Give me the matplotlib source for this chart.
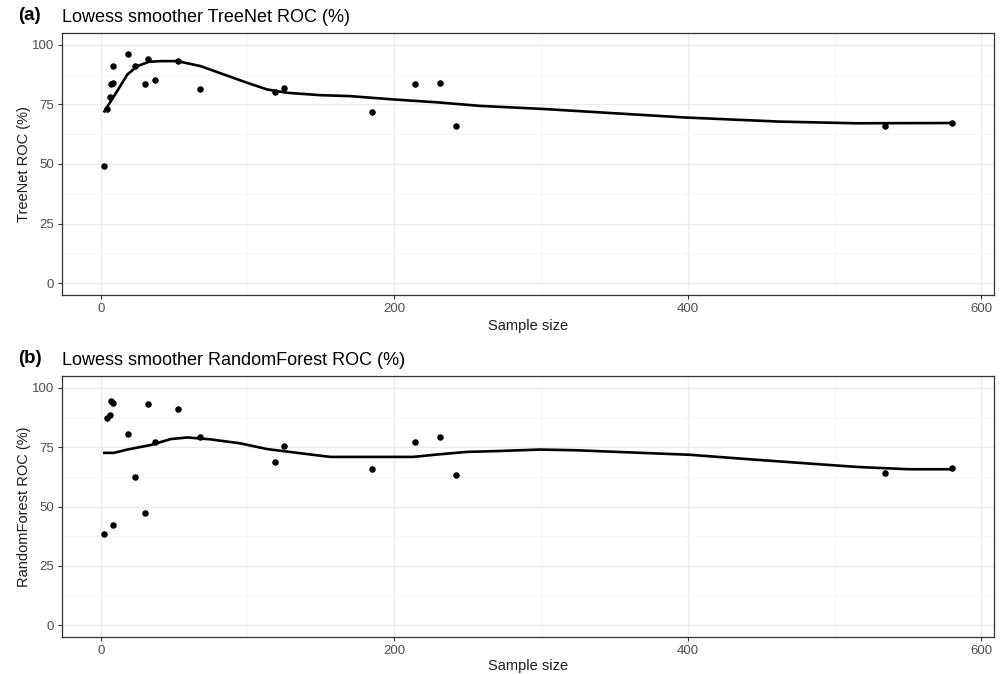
import matplotlib
matplotlib.use("Agg")
import matplotlib.pyplot as plt
from matplotlib.ticker import MultipleLocator

plt.rcParams['font.family'] = ['Liberation Sans', 'DejaVu Sans']

# ---- data ----
sample_size = [2.5, 4.5, 6.0, 6.8, 8.6, 8.6, 18.8, 23.7, 30.2, 32.2, 37.2,
               52.6, 68.0, 118.6, 125.0, 185.0, 214.3, 231.3, 242.0, 534.5, 579.8]
treenet_roc = [49.0, 73.3, 78.0, 83.4, 84.2, 91.2, 96.0, 91.2, 83.4, 94.2, 85.2,
               93.3, 81.3, 80.4, 82.1, 72.0, 83.4, 84.2, 66.0, 66.0, 67.2]
rf_roc = [38.6, 87.4, 88.5, 94.3, 93.6, 42.4, 80.4, 62.5, 47.2, 93.4, 77.3,
          91.2, 79.4, 68.7, 75.6, 65.6, 77.3, 79.4, 63.3, 64.2, 66.3]

# lowess curves
tn_curve_x = [2.5, 9, 18.2, 25, 32.9, 40.8, 52.2, 68, 83.9, 99.8, 113.4, 127,
              149.7, 170, 199.5, 229, 258.5, 301.6, 344.7, 399, 462.6, 514.7, 579.8]
tn_curve_y = [72.1, 78.4, 87.6, 91.1, 92.9, 93.2, 93.2, 91.1, 87.6, 84.1, 81.3, 79.9,
              78.9, 78.5, 77.1, 75.9, 74.4, 73.1, 71.5, 69.5, 67.8, 67.1, 67.2]
rf_curve_x = [2.5, 9, 18.2, 34, 47.6, 59, 74.8, 95.2, 113.4, 131.5, 149.7, 156.5,
              213, 229, 249.4, 272, 299.3, 324, 360.5, 401.4, 440, 485, 514.7,
              528.4, 551, 579.8]
rf_curve_y = [72.6, 72.6, 74.0, 75.9, 78.4, 79.1, 78.3, 76.6, 74.2, 72.8, 71.4, 70.9,
              70.9, 71.9, 73.0, 73.4, 74.0, 73.7, 72.8, 71.8, 70.0, 68.0, 66.7,
              66.3, 65.7, 65.7]

panels = [
    ("(a)", "Lowess smoother TreeNet ROC (%)", "TreeNet ROC (%)", treenet_roc, tn_curve_x, tn_curve_y),
    ("(b)", "Lowess smoother RandomForest ROC (%)", "RandomForest ROC (%)", rf_roc, rf_curve_x, rf_curve_y),
]

fig = plt.figure(figsize=(10.01, 6.74), dpi=100)
rects = [
    [62 / 1001, 1 - 295 / 674, (994 - 62) / 1001, 262 / 674],
    [62 / 1001, 1 - 637 / 674, (994 - 62) / 1001, 261 / 674],
]
xlabel_pads = [3, 1.5]

xmin, xmax = min(sample_size), max(sample_size)
xpad = (xmax - xmin) * 0.05

for rect, xlp, (tag, title, ylabel, yvals, cx, cy) in zip(rects, xlabel_pads, panels):
    ax = fig.add_axes(rect)
    ax.set_xlim(xmin - xpad, xmax + xpad)
    ax.set_ylim(-5, 105)
    ax.xaxis.set_major_locator(MultipleLocator(200))
    ax.xaxis.set_minor_locator(MultipleLocator(100))
    ax.yaxis.set_major_locator(MultipleLocator(25))
    ax.yaxis.set_minor_locator(MultipleLocator(12.5))
    ax.grid(which='major', color='#EBEBEB', linewidth=1.0)
    ax.grid(which='minor', color='#F4F4F4', linewidth=0.6)
    ax.set_axisbelow(True)
    for s in ax.spines.values():
        s.set_color('#333333')
        s.set_linewidth(0.9)
    ax.tick_params(which='major', length=3, width=0.8, color='#333333',
                   labelcolor='#4D4D4D', labelsize=9.5, pad=2.5)
    ax.tick_params(which='minor', length=0)

    ax.plot(cx, cy, color='black', linewidth=1.9, zorder=3)
    ax.scatter(sample_size, yvals, s=22, color='black', zorder=4, linewidths=0)

    ax.set_xlabel("Sample size", fontsize=10.5, color='#1a1a1a', labelpad=xlp)
    ax.set_ylabel(ylabel, fontsize=10.5, color='#1a1a1a', labelpad=1)
    ax.set_title(title, fontsize=13, loc='left', pad=8, color='black')
    ax.text(-0.047, 1.035, tag, transform=ax.transAxes, fontsize=13.5,
            fontweight='bold', ha='left', va='bottom')

fig.savefig("out.png", dpi=100)
